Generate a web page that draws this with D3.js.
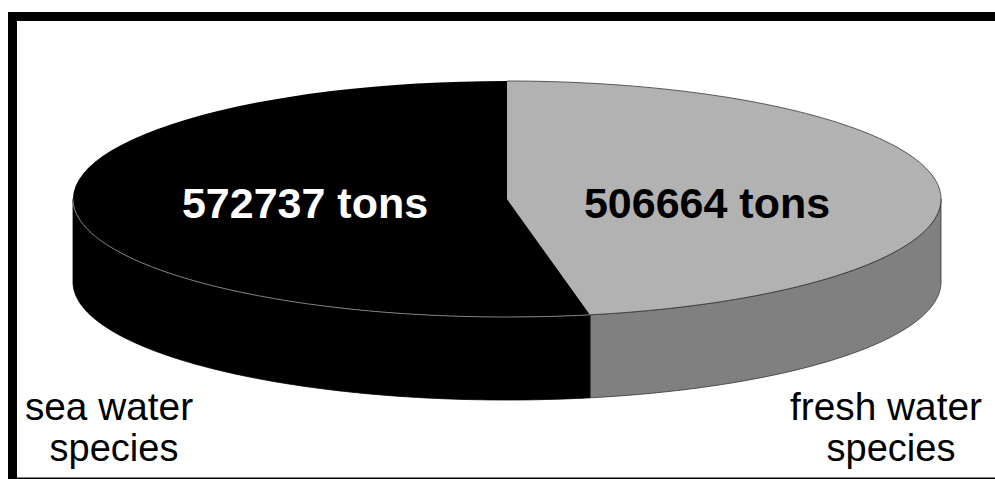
<!DOCTYPE html>
<html>
<head>
<meta charset="utf-8">
<script src="https://cdn.jsdelivr.net/npm/d3@7"></script>
<style>
  html, body { margin: 0; padding: 0; background: #fff; overflow: hidden; }
  text { font-family: "Liberation Sans", Arial, sans-serif; }
</style>
</head>
<body>
<script>
// tons per group, clockwise from twelve o'clock
var groups = ['fresh water species', 'sea water species'];
var tons = [506664, 572737];
var valueLabels = ['506664 tons', '572737 tons'];
var nameLines = [['fresh water', 'species'], ['sea water', 'species']];

var width = 995,
    height = 479;

var cx = 507, cy = 199,
    rx = 434, ry = 118,
    depth = 83;

var topColor = d3.scaleOrdinal().domain(groups).range(['#b2b2b2', '#000000']);
var sideColor = d3.scaleOrdinal().domain(groups).range(['#808080', '#000000']);
var rimColor = d3.scaleOrdinal().domain(groups).range(['#333333', '#a0a0a0']);

var svg = d3.select('body').append('svg')
    .attr('width', width)
    .attr('height', height)
    .style('display', 'block');

// frame: heavy on the top and left, hairline along the bottom
svg.append('rect').attr('x', 8).attr('y', 12).attr('width', width - 8).attr('height', 9).attr('fill', '#000');
svg.append('rect').attr('x', 8).attr('y', 12).attr('width', 9).attr('height', height - 12).attr('fill', '#000');
svg.append('rect').attr('x', 8).attr('y', 477.5).attr('width', width - 8).attr('height', 1.5).attr('fill', '#000');

var pie = d3.pie()
    .sort(null)
    .value(function (d) { return d.tons; });

var slices = pie(groups.map(function (g, i) { return {group: g, tons: tons[i]}; }));

function rimPoint(a, dy) {
    return [cx + rx * Math.sin(a), cy - ry * Math.cos(a) + dy];
}

// wall below one slice, only the part of the rim that faces the viewer
function wallPath(d) {
    var a0 = Math.max(d.startAngle, Math.PI / 2),
        a1 = Math.min(d.endAngle, Math.PI * 1.5);
    var angles = d3.range(0, 121).map(function (i) { return a0 + (a1 - a0) * i / 120; });
    var pts = angles.map(function (a) { return rimPoint(a, 0); })
        .concat(angles.slice().reverse().map(function (a) { return rimPoint(a, depth); }));
    return d3.line()(pts) + 'Z';
}

svg.append('g').selectAll('path')
    .data(slices)
    .enter()
    .append('path')
    .attr('d', wallPath)
    .attr('fill', function (d) { return sideColor(d.data.group); })
    .attr('stroke', function (d) { return d.index === 0 ? '#333' : '#000'; })
    .attr('stroke-width', 0.8);

// top face: a flat pie squashed into an ellipse
var arc = d3.arc().innerRadius(0).outerRadius(rx);

svg.append('g')
    .attr('transform', 'translate(' + cx + ',' + cy + ') scale(1,' + (ry / rx) + ')')
    .selectAll('path')
    .data(slices)
    .enter()
    .append('path')
    .attr('d', arc)
    .attr('fill', function (d) { return topColor(d.data.group); });

// rim line: all round the grey slice, front half only on the black one
svg.append('g').selectAll('path')
    .data(slices)
    .enter()
    .append('path')
    .attr('d', function (d) {
        var a0 = d.startAngle,
            a1 = Math.min(d.endAngle, Math.PI * 1.5);
        return d3.line()(d3.range(0, 121).map(function (i) {
            return rimPoint(a0 + (a1 - a0) * i / 120, 0);
        }));
    })
    .attr('fill', 'none')
    .attr('stroke', function (d) { return rimColor(d.data.group); })
    .attr('stroke-width', 0.8);

// value labels on the slices
svg.append('g').selectAll('text')
    .data(valueLabels)
    .enter()
    .append('text')
    .attr('x', function (d, i) { return i === 0 ? 707 : 305; })
    .attr('y', 218)
    .attr('text-anchor', 'middle')
    .attr('font-size', 43)
    .attr('font-weight', 'bold')
    .attr('fill', function (d, i) { return i === 0 ? '#000' : '#fff'; })
    .text(function (d) { return d; });

// group names in the bottom corners
var nameX = [886, 109],
    nameSpeciesX = [891, 114];

nameLines.forEach(function (lines, i) {
    svg.append('text')
        .attr('x', nameX[i]).attr('y', 420)
        .attr('text-anchor', 'middle')
        .attr('font-size', 38.8)
        .attr('fill', '#000')
        .text(lines[0]);
    svg.append('text')
        .attr('x', nameSpeciesX[i]).attr('y', 461)
        .attr('text-anchor', 'middle')
        .attr('font-size', 38)
        .attr('fill', '#000')
        .text(lines[1]);
});
</script>
</body>
</html>
